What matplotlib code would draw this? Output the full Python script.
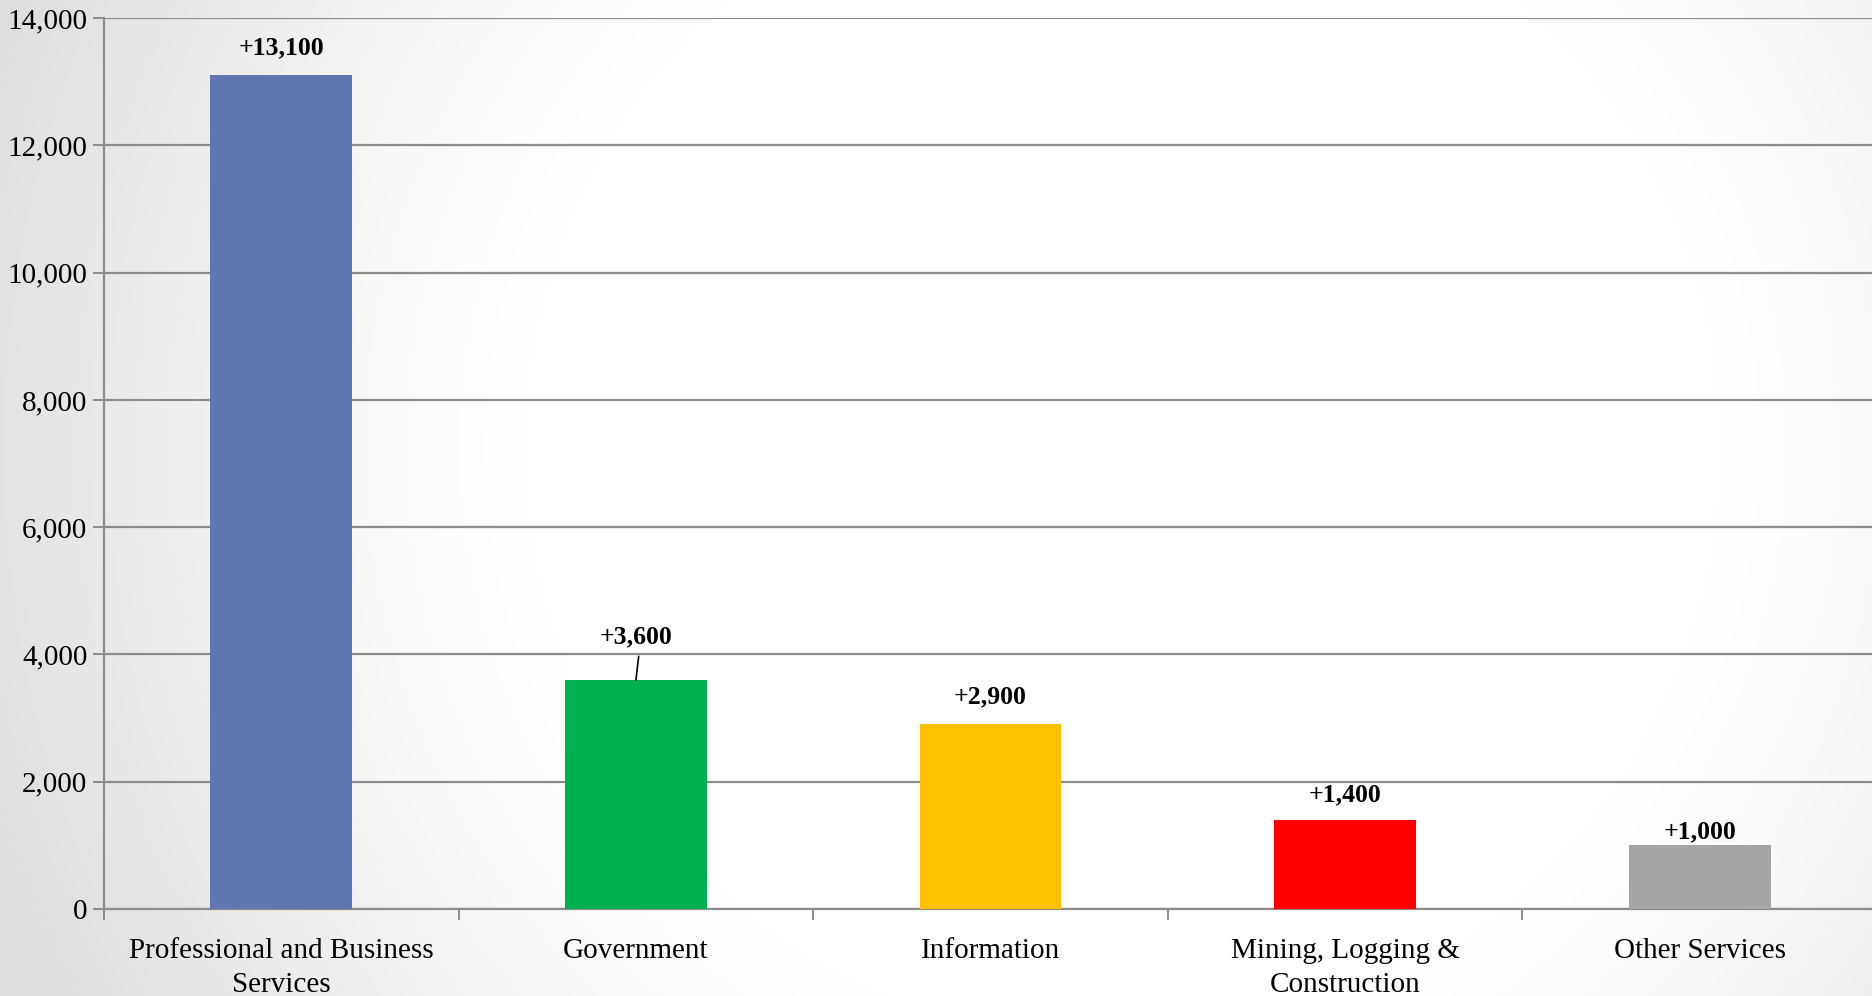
import numpy as np
import matplotlib.pyplot as plt
from matplotlib.ticker import FuncFormatter, FixedLocator

# --------------------------------------------------------------
# Data
# --------------------------------------------------------------

categories = ["Professional and Business\nServices", "Government", "Information",
              "Mining, Logging &\nConstruction", "Other Services"]
values = [13100, 3600, 2900, 1400, 1000]
labels = ["+13,100", "+3,600", "+2,900", "+1,400", "+1,000"]
colors = ["#6175B3", "#00AF50", "#FFC000", "#FF0000", "#A5A5A5"]

# label placement (points above bar top)
label_dy = [20, 31, 20, 18, 10]

plt.rcParams["font.family"] = ["Liberation Serif", "DejaVu Serif"]

fig = plt.figure(figsize=(18.72, 9.96), dpi=100)

# --------------------------------------------------------------
# Background radial gradient
# --------------------------------------------------------------

bg = fig.add_axes([0, 0, 1, 1], zorder=0)
yy, xx = np.mgrid[0:1:300j, 0:1:560j]
d = np.sqrt(((xx - 0.6) * 1.88) ** 2 + (yy - 0.55) ** 2)
shade = 1 - 0.13 * np.clip((d - 0.6) / 0.6, 0, 1) ** 1.3
bg.imshow(np.dstack([shade] * 3), extent=[0, 1, 0, 1], aspect="auto", origin="lower")
bg.axis("off")

# --------------------------------------------------------------
# Bars
# --------------------------------------------------------------

ax = fig.add_axes([0.0556, 0.0873, 0.947, 0.8946], zorder=1)
ax.patch.set_alpha(0)
x = np.arange(len(categories))
ax.bar(x, values, width=0.40, color=colors, zorder=3)

for i, (v, lab) in enumerate(zip(values, labels)):
    ax.annotate(lab, xy=(i, v), xytext=(0, label_dy[i]), textcoords="offset points",
                ha="center", va="center", fontsize=18.5, fontweight="bold", zorder=4)

# leader line for the Government label
ax.annotate("", xy=(1, values[1]), xytext=(2, 17), textcoords="offset points",
            arrowprops=dict(arrowstyle="-", color="black", lw=1.2, shrinkA=0, shrinkB=0),
            zorder=4)

ax.set_xlim(-0.5, len(categories) - 0.5)
ax.set_ylim(0, 14000)
ax.set_yticks(range(0, 14001, 2000))
ax.yaxis.set_major_formatter(FuncFormatter(lambda v, p: f"{int(v):,}"))
ax.yaxis.grid(True, color="#8c8c8c", lw=1.6, zorder=1)

ax.set_xticks(x)
ax.set_xticklabels(categories, fontsize=21, linespacing=1.4)
ax.xaxis.set_minor_locator(FixedLocator(np.arange(-0.5, len(categories), 1.0)))
ax.tick_params(axis="x", which="major", length=0, pad=21)
ax.tick_params(axis="x", which="minor", length=8, width=1.4, color="#8c8c8c")
ax.tick_params(axis="y", length=8, width=1.4, color="#8c8c8c", labelsize=21, pad=4)

for s in ["top", "right"]:
    ax.spines[s].set_visible(False)
ax.spines["left"].set_color("#8c8c8c")
ax.spines["left"].set_linewidth(1.6)
ax.spines["bottom"].set_color("#8c8c8c")
ax.spines["bottom"].set_linewidth(1.6)

plt.savefig("out.png", dpi=100)
